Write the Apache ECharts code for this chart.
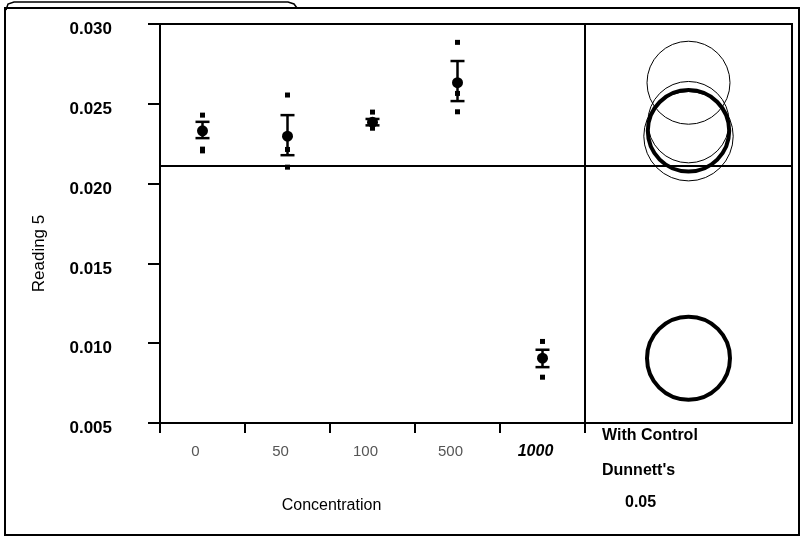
<!DOCTYPE html>
<html><head><meta charset="utf-8">
<script src="https://cdn.jsdelivr.net/npm/echarts@6/dist/echarts.min.js"></script>
<style>html,body{margin:0;padding:0;background:#fff}#c{width:804px;height:539px}</style>
</head><body><div id="c"></div>
<script>
// ---- data ----
const categories = ['0', '50', '100', '500', '1000'];
const highlightedCategories = ['1000'];
const means   = [0.02331, 0.02297, 0.02385, 0.02632, 0.00906];
const errLow  = [0.02285, 0.02178, 0.02365, 0.02517, 0.00850];
const errHigh = [0.02387, 0.02429, 0.02405, 0.02768, 0.00959];
const rawCategories = ['0', '0', '0', '50', '50', '50', '100', '100', '100', '500', '500', '500', '1000', '1000'];
const rawValues = [0.02429, 0.02216, 0.02205, 0.02555, 0.02214, 0.02103, 0.02448, 0.02395, 0.02347, 0.02885, 0.02565, 0.02450, 0.01011, 0.00787];
const grandMean = 0.0211;
const circleRadii = [0.00255, 0.00280, 0.00255, 0.00260, 0.00260];
const circleBold  = [true, false, false, false, true];
const yMin = 0.005, yMax = 0.030, yStep = 0.005;
const circlePanelCategory = ['Dunnett'];
const panelTexts = ['With Control', "Dunnett's", '0.05'];

const chart = echarts.init(document.getElementById('c'));
const FONT = 'Liberation Sans, Arial, sans-serif';

function renderErr(params, api) {
  const x = api.value(0);
  const lo = api.coord([x, api.value(1)]);
  const hi = api.coord([x, api.value(2)]);
  const cap = 7;
  const style = { stroke: '#000', lineWidth: 2.5 };
  return { type: 'group', children: [
    { type: 'line', shape: { x1: lo[0], y1: lo[1], x2: hi[0], y2: hi[1] }, style },
    { type: 'line', shape: { x1: lo[0] - cap, y1: lo[1], x2: lo[0] + cap, y2: lo[1] }, style },
    { type: 'line', shape: { x1: hi[0] - cap, y1: hi[1], x2: hi[0] + cap, y2: hi[1] }, style }
  ]};
}
function renderCircle(params, api) {
  const c = api.coord([api.value(0), api.value(1)]);
  const r = api.size([0, api.value(2)])[1];
  return { type: 'circle', shape: { cx: c[0], cy: c[1], r: r },
    style: { fill: 'none', stroke: '#000', lineWidth: api.value(3) ? 4 : 1 } };
}
const meanLine = { silent: true, symbol: 'none', precision: 5, label: { show: false },
  lineStyle: { color: '#000', width: 2, type: 'solid' }, data: [{ yAxis: grandMean }] };

const option = {
  animation: false,
  backgroundColor: '#fff',
  grid: [
    { left: 160, right: 219, top: 24, bottom: 116, show: true, borderColor: '#000', borderWidth: 2 },
    { left: 585, right: 12, top: 24, bottom: 116, show: true, borderColor: '#000', borderWidth: 2 }
  ],
  xAxis: [
    { type: 'category', gridIndex: 0, data: categories, boundaryGap: true,
      axisLine: { lineStyle: { color: '#000', width: 2 } },
      axisTick: { show: true, interval: 0, length: 10, lineStyle: { color: '#000', width: 2 } },
      axisLabel: { interval: 0, margin: 21, padding: [0, 14, 0, 0],
        formatter: v => highlightedCategories.includes(v) ? '{b|' + v + '}' : '{n|' + v + '}',
        rich: {
          n: { fontFamily: FONT, fontSize: 15, color: '#555' },
          b: { fontFamily: FONT, fontSize: 16, color: '#000', fontWeight: 'bold', fontStyle: 'italic' }
        } },
      name: 'Concentration', nameLocation: 'middle', nameGap: 75,
      nameTextStyle: { fontFamily: FONT, fontSize: 16, color: '#000', padding: [0, 82, 0, 0] },
      splitLine: { show: false } },
    { type: 'category', gridIndex: 1, data: circlePanelCategory, show: false }
  ],
  yAxis: [
    { type: 'value', gridIndex: 0, min: yMin, max: yMax, interval: yStep,
      axisLine: { show: true, lineStyle: { color: '#000', width: 2 } },
      axisTick: { show: true, length: 12, lineStyle: { color: '#000', width: 2 } },
      axisLabel: { margin: 48,
        formatter: v => '{a|' + v.toFixed(3) + '}',
        rich: { a: { fontFamily: FONT, fontSize: 17, fontWeight: 'bold', color: '#000', padding: [11, 0, 0, 0] } } },
      splitLine: { show: false },
      name: 'Reading 5', nameLocation: 'middle', nameGap: 112, nameRotate: 90,
      nameTextStyle: { fontFamily: FONT, fontSize: 17, color: '#000', padding: [0, 60, 0, 0] } },
    { type: 'value', gridIndex: 1, min: yMin, max: yMax, interval: yStep, show: false, splitLine: { show: false } }
  ],
  series: [
    { type: 'custom', xAxisIndex: 0, yAxisIndex: 0, renderItem: renderErr,
      data: categories.map((c, i) => [i, errLow[i], errHigh[i]]), z: 3, markLine: meanLine },
    { type: 'scatter', xAxisIndex: 0, yAxisIndex: 0, symbol: 'rect', symbolSize: 5,
      itemStyle: { color: '#000', opacity: 1 }, z: 4,
      data: rawValues.map((v, i) => [rawCategories[i], v]) },
    { type: 'scatter', xAxisIndex: 0, yAxisIndex: 0, symbol: 'circle', symbolSize: 11,
      itemStyle: { color: '#000', opacity: 1 }, z: 5,
      data: means.map((v, i) => [categories[i], v]) },
    { type: 'custom', xAxisIndex: 1, yAxisIndex: 1, renderItem: renderCircle, clip: false,
      data: means.map((m, i) => [0, m, circleRadii[i], circleBold[i] ? 1 : 0]), markLine: meanLine }
  ],
  graphic: [
    { type: 'rect', shape: { x: 5, y: 8, width: 794, height: 527 }, style: { fill: 'none', stroke: '#000', lineWidth: 2 }, silent: true },
    { type: 'polyline', shape: { points: [[6, 10], [8, 4], [14, 2], [288, 2], [294, 4], [297, 8]] }, style: { fill: 'none', stroke: '#000', lineWidth: 1.5 }, silent: true },
    { type: 'text', left: 602, top: 428, style: { text: panelTexts[0], font: 'bold 16px ' + FONT, fill: '#000' } },
    { type: 'text', left: 602, top: 463, style: { text: panelTexts[1], font: 'bold 16px ' + FONT, fill: '#000' } },
    { type: 'text', left: 625, top: 495, style: { text: panelTexts[2], font: 'bold 16px ' + FONT, fill: '#000' } }
  ]
};
chart.setOption(option);
</script>
</body></html>
